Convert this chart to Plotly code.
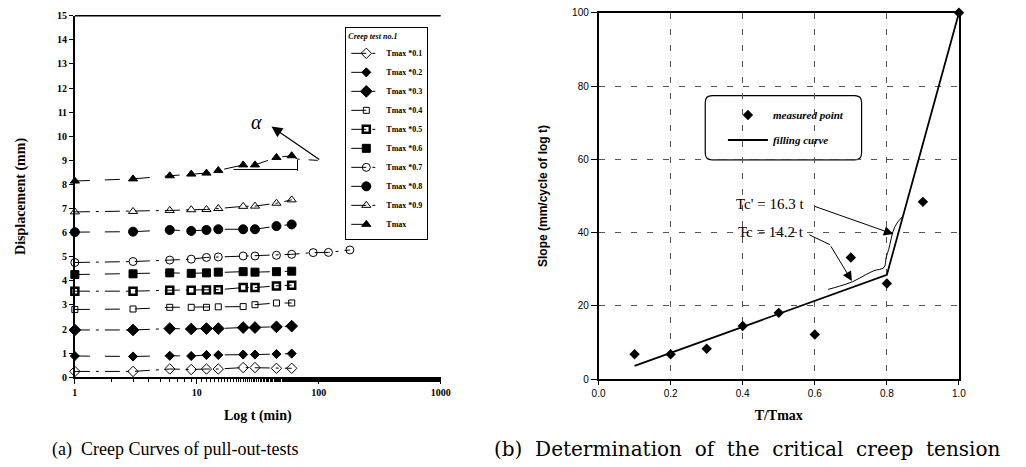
import math
import plotly.graph_objects as go

# ---------------- data: (a) creep curves ----------------
time_min = [1, 3, 6, 9, 12, 15, 24, 30, 45, 60]
time_min_07 = [1, 3, 6, 9, 12, 15, 24, 30, 45, 60, 90, 120, 180]

disp_01 = [0.24, 0.24, 0.34, 0.32, 0.34, 0.34, 0.40, 0.40, 0.37, 0.37]
disp_02 = [0.88, 0.86, 0.89, 0.88, 0.92, 0.92, 0.94, 0.94, 0.96, 0.98]
disp_03 = [1.96, 1.96, 2.02, 2.00, 2.02, 2.02, 2.06, 2.06, 2.09, 2.12]
disp_04 = [2.81, 2.83, 2.90, 2.90, 2.90, 2.92, 2.93, 3.01, 3.08, 3.08]
disp_05 = [3.57, 3.57, 3.61, 3.61, 3.62, 3.63, 3.72, 3.72, 3.79, 3.82]
disp_06 = [4.26, 4.29, 4.33, 4.31, 4.33, 4.36, 4.38, 4.36, 4.38, 4.40]
disp_07 = [4.76, 4.80, 4.86, 4.90, 4.97, 4.99, 5.03, 5.03, 5.06, 5.10, 5.17, 5.18, 5.28]
disp_08 = [6.02, 6.04, 6.11, 6.07, 6.11, 6.14, 6.14, 6.14, 6.27, 6.34]
disp_09 = [6.86, 6.88, 6.92, 6.95, 6.96, 7.00, 7.09, 7.10, 7.22, 7.36]
disp_10 = [8.14, 8.23, 8.36, 8.43, 8.47, 8.58, 8.81, 8.81, 9.12, 9.19]

series_names = ["Tmax *0.1", "Tmax *0.2", "Tmax *0.3", "Tmax *0.4", "Tmax *0.5",
                "Tmax *0.6", "Tmax *0.7", "Tmax *0.8", "Tmax *0.9", "Tmax"]

# hand-drawn alpha construction marks
alpha_ext_t = [60, 67, 104]
alpha_ext_d = [9.19, 9.05, 8.99]
alpha_base_t = [20, 67]
alpha_base_d = [8.62, 8.62]
alpha_vert_t = [67, 67]
alpha_vert_d = [8.57, 9.02]

# ---------------- data: (b) slope vs T/Tmax ----------------
t_ratio = [0.1, 0.2, 0.3, 0.4, 0.5, 0.6, 0.7, 0.8, 0.9, 1.0]
slope = [6.8, 6.8, 8.3, 14.5, 18.1, 12.2, 33.2, 26.1, 48.4, 100]
fit_x = [0.1, 0.8, 1.0]
fit_y = [3.6, 28.5, 100]
smooth_x = [0.637, 0.669, 0.705, 0.741, 0.764, 0.792, 0.798, 0.805, 0.822, 0.845]
smooth_y = [24.5, 25.4, 26.6, 28.5, 29.6, 30.5, 33.2, 35.4, 41.6, 44.6]

W, H = 1026, 467
SERIF = "Liberation Serif, Times New Roman, serif"
WIDE_SERIF = "DejaVu Serif, serif"
SANS = "Liberation Sans, Arial, sans-serif"

fig = go.Figure()

styles = [
    dict(symbol="diamond-open", size=8, lw=1),
    dict(symbol="diamond", size=7, lw=1),
    dict(symbol="diamond", size=9, lw=1),
    dict(symbol="square-open", size=6, lw=1),
    dict(symbol="square-open", size=7, lw=2.5),
    dict(symbol="square", size=8, lw=1),
    dict(symbol="circle-open", size=8, lw=1),
    dict(symbol="circle", size=9, lw=1),
    dict(symbol="triangle-up-open", size=8, lw=1),
    dict(symbol="triangle-up", size=8, lw=1),
]
dashes = ["longdashdot", "longdash", "longdashdot", "longdash", "longdashdot",
          "longdash", "longdashdot", "longdash", "longdashdot", "longdash"]
ys = [disp_01, disp_02, disp_03, disp_04, disp_05, disp_06, disp_07, disp_08, disp_09, disp_10]

for i, (name, yv) in enumerate(zip(series_names, ys)):
    xv = time_min_07 if i == 6 else time_min
    st = styles[i]
    fig.add_trace(go.Scatter(
        x=xv, y=yv, mode="lines+markers", name=name,
        line=dict(color="black", width=1, dash=dashes[i]),
        marker=dict(symbol=st["symbol"], size=st["size"], color="black",
                    line=dict(color="black", width=st["lw"])),
        xaxis="x", yaxis="y", legend="legend", cliponaxis=False,
    ))

for xv, yv, dsh in [(alpha_ext_t, alpha_ext_d, "dash"),
                    (alpha_base_t, alpha_base_d, "solid"),
                    (alpha_vert_t, alpha_vert_d, "solid")]:
    fig.add_trace(go.Scatter(x=xv, y=yv, mode="lines", showlegend=False,
                             line=dict(color="black", width=1, dash=dsh),
                             xaxis="x", yaxis="y", hoverinfo="skip"))

# (b)
fig.add_trace(go.Scatter(
    x=t_ratio, y=slope, mode="markers", name="measured point",
    marker=dict(symbol="diamond", size=8, color="black"),
    xaxis="x2", yaxis="y2", legend="legend2", legendgroup="a", cliponaxis=False))
fig.add_trace(go.Scatter(
    x=fit_x, y=fit_y, mode="lines", name="filling curve",
    line=dict(color="black", width=1.8),
    xaxis="x2", yaxis="y2", legend="legend2", legendgroup="b", cliponaxis=False))
fig.add_trace(go.Scatter(
    x=smooth_x, y=smooth_y, mode="lines", showlegend=False,
    line=dict(color="black", width=1, shape="spline"),
    xaxis="x2", yaxis="y2", hoverinfo="skip"))

tick_font_l = dict(family=SERIF, size=10, color="black", weight="bold")
tick_font_r = dict(family=SANS, size=10, color="black")

fig.update_layout(
    width=W, height=H,
    margin=dict(l=0, r=0, t=0, b=0),
    paper_bgcolor="white", plot_bgcolor="white",
    xaxis=dict(
        type="log", range=[0, 3], domain=[69 / W, 441 / W], anchor="y",
        showline=True, linecolor="black", linewidth=1.5,
        ticks="outside", ticklen=5, tickcolor="black",
        tickvals=[1, 10, 100, 1000], ticktext=["1", "10", "100", "1000"],
        minor=dict(ticks="outside", ticklen=3, tickcolor="black", showgrid=False),
        showgrid=False, zeroline=False, tickfont=tick_font_l,
        title=dict(text="Log t (min)", font=dict(family=SERIF, size=14, color="black", weight="bold"),
                   standoff=13),
    ),
    yaxis=dict(
        range=[0, 15], domain=[1 - 381 / H, 1 - 10 / H], anchor="x",
        showline=True, linecolor="black", linewidth=1.5,
        ticks="outside", ticklen=4, tickcolor="black", dtick=1,
        showgrid=False, zeroline=False, tickfont=tick_font_l,
        title=dict(text="Displacement (mm)", font=dict(family=SERIF, size=14, color="black", weight="bold"),
                   standoff=28),
    ),
    xaxis2=dict(
        range=[0, 1], domain=[601.5 / W, 968 / W], anchor="y2",
        showline=True, mirror=True, linecolor="black", linewidth=1.5,
        ticks="outside", ticklen=4, tickcolor="black", dtick=0.2, tickformat=".1f",
        showgrid=True, gridcolor="#555", griddash="6px,10px", gridwidth=1,
        zeroline=False, tickfont=tick_font_r,
        title=dict(text="T/Tmax", font=dict(family=SERIF, size=14, color="black", weight="bold"),
                   standoff=12),
    ),
    yaxis2=dict(
        range=[0, 100], domain=[1 - 383 / H, 1 - 7 / H], anchor="x2",
        showline=True, mirror=True, linecolor="black", linewidth=1.5,
        ticks="outside", ticklen=6, tickcolor="black", dtick=20,
        showgrid=True, gridcolor="#555", griddash="6px,10px", gridwidth=1,
        zeroline=False, tickfont=tick_font_r,
        title=dict(text="Slope (mm/cycle of log t)", font=dict(family=SANS, size=12, color="black", weight="bold"),
                   standoff=22),
    ),
    legend=dict(
        x=344 / W, y=1 - 22 / H, xanchor="left", yanchor="top",
        bgcolor="white", bordercolor="black", borderwidth=1,
        font=dict(family=SERIF, size=8, color="black", weight="bold"),
        title=dict(text="Creep test no.1", side="top",
                   font=dict(family=SERIF, size=8, color="black", weight="bold", style="italic")),
        itemwidth=30, tracegroupgap=0,
    ),
    legend2=dict(
        x=728 / W, y=1 - 97 / H, xanchor="left", yanchor="top",
        bgcolor="rgba(0,0,0,0)", borderwidth=0,
        font=dict(family=SERIF, size=11, color="black", weight="bold", style="italic"),
        itemwidth=40, tracegroupgap=6,
    ),
    showlegend=True,
)

# top border of panel (a)
fig.add_shape(type="line", xref="x domain", yref="y domain", x0=0, x1=1, y0=1, y1=1,
              line=dict(color="black", width=1.5))

# rounded frame of legend (b)
x0, x1 = 710 / W, 869 / W
y0, y1 = 1 - 158 / H, 1 - 92 / H
rx, ry = 7 / W, 7 / H
path = (f"M {x0+rx},{y1} L {x1-rx},{y1} Q {x1},{y1} {x1},{y1-ry} "
        f"L {x1},{y0+ry} Q {x1},{y0} {x1-rx},{y0} L {x0+rx},{y0} "
        f"Q {x0},{y0} {x0},{y0+ry} L {x0},{y1-ry} Q {x0},{y1} {x0+rx},{y1} Z")
fig.add_shape(type="path", xref="paper", yref="paper", path=path,
              line=dict(color="black", width=1.2), layer="below", fillcolor="white")

# alpha annotation
fig.add_annotation(x=math.log10(31), y=10.6, xref="x", yref="y", text="α",
                   showarrow=False, font=dict(family=SERIF, size=20, color="black", style="italic"))
fig.add_annotation(x=math.log10(41), y=10.4, xref="x", yref="y",
                   ax=math.log10(104), ay=8.99, axref="x", ayref="y", text="",
                   showarrow=True, arrowhead=2, arrowsize=1.8, arrowwidth=1.2, arrowcolor="black")

# Tc annotations
fig.add_annotation(x=0.576, y=47.9, xref="x2", yref="y2", text="Tc' = 16.3 t",
                   xanchor="right", showarrow=False,
                   font=dict(family=SERIF, size=15, color="black"))
fig.add_annotation(x=0.818, y=39.6, xref="x2", yref="y2", ax=0.596, ay=47.3,
                   axref="x2", ayref="y2", text="", showarrow=True,
                   arrowhead=2, arrowsize=1.9, arrowwidth=1, arrowcolor="black")
fig.add_annotation(x=0.576, y=40.2, xref="x2", yref="y2", text="Tc = 14.2 t",
                   xanchor="right", showarrow=False,
                   font=dict(family=SERIF, size=15, color="black"))
fig.add_shape(type="line", xref="x2", yref="y2", x0=0.585, y0=39.4, x1=0.642, y1=36.7,
              line=dict(color="black", width=1))
fig.add_annotation(x=0.703, y=26.8, xref="x2", yref="y2", ax=0.642, ay=36.7,
                   axref="x2", ayref="y2", text="", showarrow=True,
                   arrowhead=2, arrowsize=1.9, arrowwidth=1, arrowcolor="black")

# captions
fig.add_annotation(x=171 / W, y=1 - 455 / H, xref="paper", yref="paper",
                   xanchor="center", yanchor="middle",
                   text="(a)  Creep Curves of pull-out-tests", showarrow=False,
                   font=dict(family=SERIF, size=18, color="black"))
fig.add_annotation(x=753 / W, y=1 - 455 / H, xref="paper", yref="paper",
                   xanchor="center", yanchor="middle",
                   text="(b)\u00a0 Determination\u00a0 of\u00a0 the\u00a0 critical\u00a0 creep\u00a0 tension",
                   showarrow=False,
                   font=dict(family=WIDE_SERIF, size=20, color="black"))

fig.write_html("out.html")
